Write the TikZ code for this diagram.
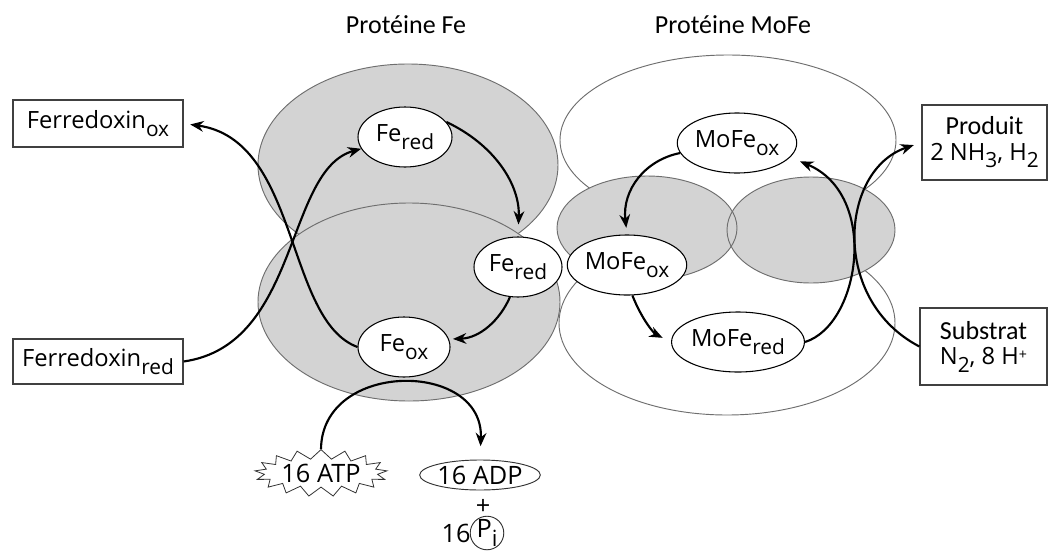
\documentclass[tikz,border=0pt]{standalone}
\usepackage{fontspec}
\usepackage{graphicx}
\usetikzlibrary{shapes.geometric,shapes.symbols,arrows.meta}
\setmainfont{Open Sans}
\newfontfamily\carlito{Carlito}
\newcommand\lowsub[1]{\raisebox{-0.6ex}{\scalebox{0.88}{#1}}}
\definecolor{protgray}{HTML}{D3D3D3}
\definecolor{protline}{HTML}{6E6E6E}
\begin{document}
\begin{tikzpicture}[x=0.75pt,y=-0.75pt,
  bigshape/.style={draw=protline,line width=0.7pt},
  site/.style={ellipse,draw=black,fill=white,line width=0.8pt,inner sep=0pt,
    minimum height=45pt,font=\fontsize{17.8}{20}\selectfont},
  labelbox/.style={rectangle,draw=black!75,fill=white,line width=0.9pt,inner sep=0pt,
    font=\fontsize{17.8}{20}\selectfont},
  flow/.style={line width=1.6pt,-{Stealth[length=10pt,width=8pt]}},
  title/.style={font=\carlito\fontsize{19.5}{22}\selectfont},
  small/.style={font=\fontsize{19}{21}\selectfont}]
\useasboundingbox (0,0) rectangle (1050,554);
\fill[white] (0,0) rectangle (1050,554);
% MoFe protein, white lobes
\draw[bigshape,fill=white] (728,140) ellipse [x radius=168,y radius=85];
\draw[bigshape,fill=white] (727,323) ellipse [x radius=168,y radius=92];
% MoFe protein, gray middle lobes
\fill[protgray] (647,228) ellipse [x radius=90,y radius=52];
\fill[protgray] (811,230) ellipse [x radius=84,y radius=53];
\draw[bigshape] (647,228) ellipse [x radius=90,y radius=52];
\draw[bigshape] (811,230) ellipse [x radius=84,y radius=53];
% Fe protein, gray lobes
\draw[bigshape,fill=protgray] (408,165) ellipse [x radius=150,y radius=101];
\draw[bigshape,fill=protgray] (409,302) ellipse [x radius=151,y radius=99];
% titles
\node[title] (tfe) at (406,25) {Protéine Fe};
\node[title] (tmo) at (733,25) {Protéine MoFe};
% sites
\node[site,minimum width=70.5pt] (feA) at (405,137) {Fe\lowsub{red}};
\node[site,minimum width=66pt] (feB) at (518,267) {Fe\lowsub{red}};
\node[site,minimum width=69pt] (feC) at (404,347) {Fe\lowsub{ox}};
\node[site,minimum width=82.5pt] (moA) at (737,143) {MoFe\lowsub{ox}};
\node[site,minimum width=81.75pt] (moB) at (627,265) {MoFe\lowsub{ox}};
\node[site,minimum width=82.5pt] (moC) at (738,342) {MoFe\lowsub{red}};
% boxes
\node[labelbox,minimum width=127.5pt,minimum height=35.25pt] (fdox) at (98,123.5) {Ferredoxin\lowsub{ox}};
\node[labelbox,minimum width=127.5pt,minimum height=33.75pt] (fdred) at (98,361.5) {Ferredoxin\lowsub{red}};
\node[labelbox,minimum width=93.75pt,minimum height=56.25pt,align=center] (prod) at (984.5,142.5)
  {{\carlito\fontsize{19.5}{21}\selectfont Produit}\\[-1pt]2 NH\lowsub{3}, H\lowsub{2}};
\node[labelbox,minimum width=95.25pt,minimum height=57.75pt,align=center] (subs) at (983.5,346.5)
  {{\carlito\fontsize{19.5}{21}\selectfont Substrat}\\[-1pt]N\lowsub{2}, 8 H\raisebox{0.35ex}{\scalebox{0.6}{+}}};
% ATP / ADP
\node[starburst,draw=black!80,fill=white,line width=0.6pt,starburst points=17,
  starburst point height=7pt,random starburst=0,inner sep=0.5pt,small] (atp) at (321,473) {16 ATP};
\node[ellipse,draw=black!80,line width=0.7pt,minimum width=72pt,minimum height=22.5pt,
  inner sep=0pt,small] (adp) at (480,475) {16 ADP};
\node[small] (plus) at (483,507) {+};
\node[small] (sixteen) at (456,533) {16};
\node[circle,draw=black!80,line width=0.7pt,minimum size=22pt,inner sep=0pt,small] (pi) at (487,533) {P\lowsub{i}};
% flows
\draw[flow] (fdred.east) .. controls (300,345) and (285,170) .. (feA.195);
\draw[flow,shorten >=5pt] (feC.west) .. controls (285,320) and (300,140) .. (fdox.east);
\draw[flow,shorten >=9pt] (feA.20) .. controls (495,145) and (520,185) .. (feB.north);
\draw[flow,shorten >=3pt] (feB.-105) .. controls (500,320) and (480,338) .. (feC.10);
\draw[flow,shorten >=10pt] (atp.north) .. controls (322,360) and (484,360) .. (adp.north);
\draw[flow,shorten >=5pt] (moA.190) .. controls (645,160) and (622,190) .. (moB.north);
\draw[flow,shorten >=7pt] (moB.-80) .. controls (643,322) and (655,334) .. (moC.west);
\draw[flow,shorten >=8pt] (moC.east) .. controls (860,325) and (880,195) .. (moA.-15);
\draw[flow,shorten >=6pt] (subs.west) .. controls (830,300) and (840,170) .. (prod.west);
\end{tikzpicture}
\end{document}
